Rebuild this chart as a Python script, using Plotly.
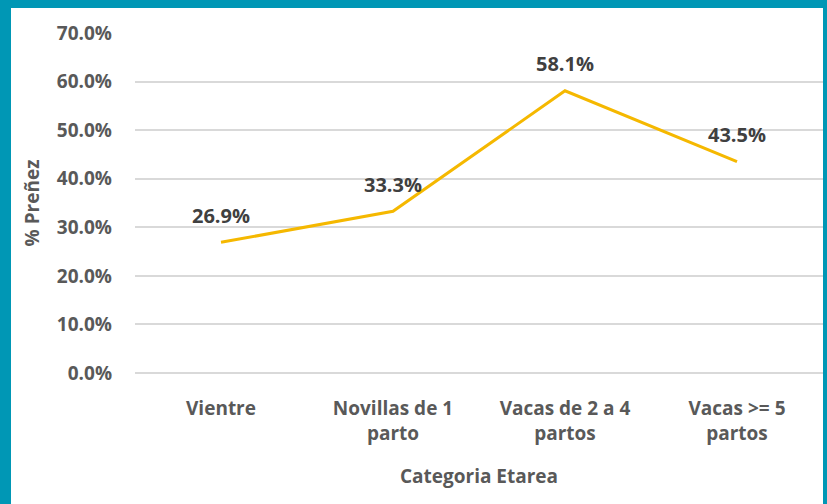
import plotly.graph_objects as go

categories = ["Vientre", "Novillas de 1<br>parto", "Vacas de 2 a 4<br>partos", "Vacas >= 5<br>partos"]
pct_prenez = [26.9, 33.3, 58.1, 43.5]
y_tickvals = [0, 10, 20, 30, 40, 50, 60, 70]
y_ticktext = ["0.0%", "10.0%", "20.0%", "30.0%", "40.0%", "50.0%", "60.0%", "70.0%"]

W, H = 827, 504
L, R, T, B = 135, 4, 33, 131
pw = W - L - R
ph = H - T - B

TEAL = "#0097B5"
LINE = "#F5B800"
FONT = "Open Sans"

fig = go.Figure()
fig.add_trace(go.Scatter(
    x=list(range(len(categories))), y=pct_prenez, mode="lines",
    line=dict(color=LINE, width=3), hoverinfo="skip", showlegend=False,
))

for i, v in enumerate(pct_prenez):
    fig.add_annotation(x=i, y=v, text=f"{v:.1f}%", showarrow=False, yshift=27,
                       font=dict(family=FONT, size=20, color="#404040", weight="bold"))

def px_x(p):
    return (p - L) / pw

def px_y(p):
    return 1 - (p - T) / ph

# teal frame (left, top, right)
fig.add_shape(type="rect", xref="paper", yref="paper", x0=px_x(-5), x1=px_x(11), y0=px_y(H + 5), y1=px_y(-5),
              fillcolor=TEAL, line_width=0, layer="above")
fig.add_shape(type="rect", xref="paper", yref="paper", x0=px_x(-5), x1=px_x(W + 5), y0=px_y(8), y1=px_y(-5),
              fillcolor=TEAL, line_width=0, layer="above")
fig.add_shape(type="rect", xref="paper", yref="paper", x0=px_x(823), x1=px_x(W + 5), y0=px_y(H + 5), y1=px_y(-5),
              fillcolor=TEAL, line_width=0, layer="above")

fig.update_layout(
    width=W, height=H,
    margin=dict(l=L, r=R, t=T, b=B, pad=0),
    paper_bgcolor="white", plot_bgcolor="white",
    xaxis=dict(
        tickmode="array", tickvals=list(range(len(categories))), ticktext=categories,
        range=[-0.5, len(categories) - 0.5], showgrid=False, zeroline=False, showline=False,
        ticks="", ticklabelstandoff=22,
        tickfont=dict(family=FONT, size=19, color="#595959", weight="bold"),
        title=dict(text="Categoria Etarea", standoff=24,
                   font=dict(family=FONT, size=19, color="#595959", weight="bold")),
    ),
    yaxis=dict(
        tickmode="array", tickvals=y_tickvals, ticktext=y_ticktext,
        range=[0, 70], showgrid=True, gridcolor="#D9D9D9", gridwidth=1.5,
        zeroline=True, zerolinecolor="#D9D9D9", zerolinewidth=1.5, showline=False,
        ticks="", ticklabelstandoff=22,
        tickfont=dict(family=FONT, size=19, color="#595959", weight="bold"),
        title=dict(text="% Preñez", standoff=12,
                   font=dict(family=FONT, size=19, color="#595959", weight="bold")),
    ),
)

fig.write_html("out.html", config={"displayModeBar": False},
               post_script="document.body.style.margin='0';")
